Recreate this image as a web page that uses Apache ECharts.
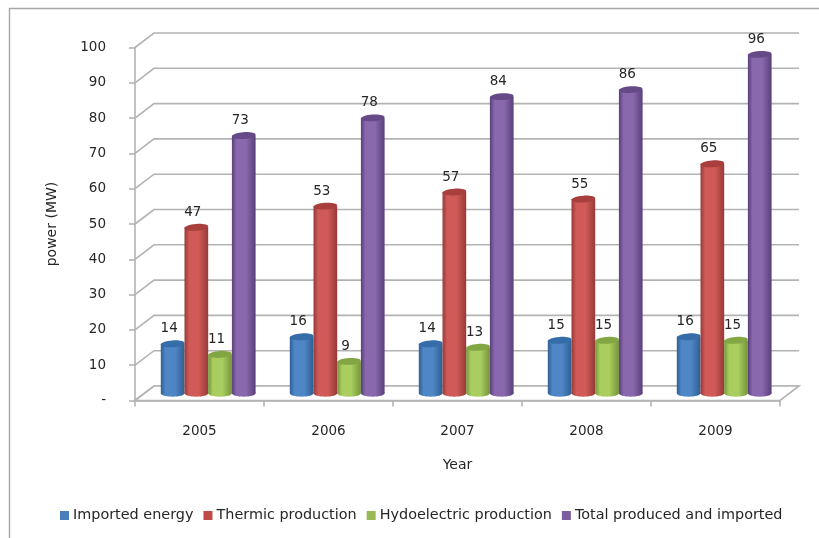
<!DOCTYPE html>
<html>
<head>
<meta charset="utf-8">
<style>html,body{margin:0;padding:0;background:#fff}#chart{width:819px;height:538px}</style>
<script src="https://cdn.jsdelivr.net/npm/echarts@6/dist/echarts.min.js"></script>
</head>
<body>
<div id="chart"></div>
<script>
// Power supply by year, drawn as cylinders in a pseudo-3D frame.
var years = ['2005', '2006', '2007', '2008', '2009'];
var imported = [14, 16, 14, 15, 16];
var thermic = [47, 53, 57, 55, 65];
var hydro = [11, 9, 13, 15, 15];
var total = [73, 78, 84, 86, 96];
var yTicks = [0, 10, 20, 30, 40, 50, 60, 70, 80, 90, 100];

var seriesDefs = [
  { name: 'Imported energy', values: imported, side: '#2f5f93', mid: '#4f86c6', top: '#356da8', swatch: '#4a7ebb' },
  { name: 'Thermic production', values: thermic, side: '#963a38', mid: '#d05a57', top: '#a83f3c', swatch: '#be4b48' },
  { name: 'Hydoelectric production', values: hydro, side: '#74953a', mid: '#a9cd5e', top: '#83a644', swatch: '#98b954' },
  { name: 'Total produced and imported', values: total, side: '#58407a', mid: '#8a68ad', top: '#664a88', swatch: '#7d5fa0' }
];

var TEXT = '#262626';
var LINE = '#b3b3b3';
var FONT = '"DejaVu Sans", sans-serif';
var DEPTH_X = 19, DEPTH_Y = -14.5;     // oblique offset from front plane to back wall
var BAR_W = 23.7;                      // cylinder diameter in pixels
var ELLIPSE_RY = 3.4;
var TILT = 0.07;                       // slight slant of the cylinder caps, radians

// Back wall grid lines plus the matching stubs on the left side wall.
function renderGridLine(params, api) {
  var p = api.coord([0, api.value(0)]);
  var xs = params.coordSys;
  var x0 = xs.x, x1 = xs.x + xs.width, y = p[1];
  return {
    type: 'polyline',
    shape: { points: [[x0, y], [x0 + DEPTH_X, y + DEPTH_Y], [x1 + DEPTH_X, y + DEPTH_Y]] },
    style: { stroke: LINE, lineWidth: 1.6, fill: null },
    silent: true
  };
}

// Floor outline in front of the back wall.
function renderFloor(params, api) {
  var xs = params.coordSys;
  var y = api.coord([0, 0])[1];
  var x0 = xs.x, x1 = xs.x + xs.width;
  return {
    type: 'polygon',
    shape: { points: [[x0, y], [x0 + DEPTH_X, y + DEPTH_Y], [x1 + DEPTH_X, y + DEPTH_Y], [x1, y]] },
    style: { stroke: LINE, lineWidth: 1.6, fill: '#ffffff' },
    silent: true
  };
}

function cylinderRenderer(def, index) {
  return function (params, api) {
    var base = api.coord([api.value(0), 0]);
    var head = api.coord([api.value(0), api.value(1)]);
    var cx = base[0] + DEPTH_X / 2 - 0.8 + (index - 1.5) * BAR_W;
    var yBase = base[1] + DEPTH_Y / 2;
    var yTop = head[1] + DEPTH_Y / 2;
    var r = BAR_W / 2;
    var gradient = new echarts.graphic.LinearGradient(0, 0, 1, 0, [
      { offset: 0, color: def.side },
      { offset: 0.2, color: def.mid },
      { offset: 0.6, color: def.mid },
      { offset: 1, color: def.side }
    ]);
    return {
      type: 'group',
      children: [
        { type: 'rect', shape: { x: cx - r, y: yTop, width: BAR_W, height: yBase - yTop },
          style: { fill: gradient } },
        { type: 'ellipse', shape: { cx: cx, cy: yBase, rx: r, ry: ELLIPSE_RY },
          style: { fill: gradient } },
        { type: 'ellipse', shape: { cx: 0, cy: 0, rx: r, ry: ELLIPSE_RY },
          x: cx, y: yTop, rotation: TILT, style: { fill: def.top } },
        { type: 'text', x: cx - 3.5, y: yTop - 15,
          style: { text: String(api.value(1)), fill: TEXT, font: '13.5px ' + FONT,
            textAlign: 'center', textVerticalAlign: 'middle' } }
      ]
    };
  };
}

var series = [
  { name: 'grid', type: 'custom', data: yTicks.map(function (v) { return [v]; }),
    encode: { y: 0 }, renderItem: renderGridLine, z: 1, silent: true, legendHoverLink: false },
  { name: 'floor', type: 'custom', data: [[0]], encode: { y: 0 },
    renderItem: renderFloor, z: 2, silent: true }
];

seriesDefs.forEach(function (def, i) {
  series.push({
    name: def.name,
    type: 'custom',
    data: years.map(function (y, j) { return [j, def.values[j]]; }),
    encode: { x: 0, y: 1 },
    itemStyle: { color: def.swatch },
    renderItem: cylinderRenderer(def, i),
    z: 3 + i,
    silent: true
  });
});

var chart = echarts.init(document.getElementById('chart'));
chart.setOption({
  animation: false,
  backgroundColor: '#ffffff',
  grid: { left: 135, right: 39, top: 47.5, bottom: 137.5, containLabel: false },
  xAxis: {
    type: 'category', data: years, boundaryGap: true,
    name: 'Year', nameLocation: 'middle', nameGap: 58,
    nameTextStyle: { color: TEXT, fontFamily: FONT, fontSize: 14 },
    axisLine: { lineStyle: { color: LINE, width: 1.6 } },
    axisTick: { show: true, length: 6, lineStyle: { color: LINE, width: 1.6 } },
    axisLabel: { color: TEXT, fontFamily: FONT, fontSize: 13.5, margin: 24 },
    splitLine: { show: false }
  },
  yAxis: {
    type: 'value', min: 0, max: 100, interval: 10,
    name: 'power (MW)', nameLocation: 'middle', nameGap: 76, nameRotate: 90,
    nameTextStyle: { color: TEXT, fontFamily: FONT, fontSize: 14 },
    axisLine: { show: true, lineStyle: { color: LINE, width: 1.6 } },
    axisTick: { show: true, length: 6, lineStyle: { color: LINE, width: 1.6 } },
    axisLabel: { color: TEXT, fontFamily: FONT, fontSize: 13.5, margin: 29,
      formatter: function (v) { return v === 0 ? '-' : String(v); } },
    splitLine: { show: false }
  },
  legend: {
    data: seriesDefs.map(function (d) { return d.name; }),
    left: 55, top: 503.5, itemWidth: 9, itemHeight: 9, itemGap: 10, icon: 'rect',
    textStyle: { color: TEXT, fontFamily: FONT, fontSize: 14.4, padding: [0, 0, 0, -1] },
    selectedMode: false
  },
  graphic: [
    { type: 'polyline', silent: true, z: 0,
      shape: { points: [[9.5, 538], [9.5, 8.5], [819, 8.5]] },
      style: { stroke: '#a6a6a6', lineWidth: 1.4, fill: null } }
  ],
  series: series
});
</script>
</body>
</html>
